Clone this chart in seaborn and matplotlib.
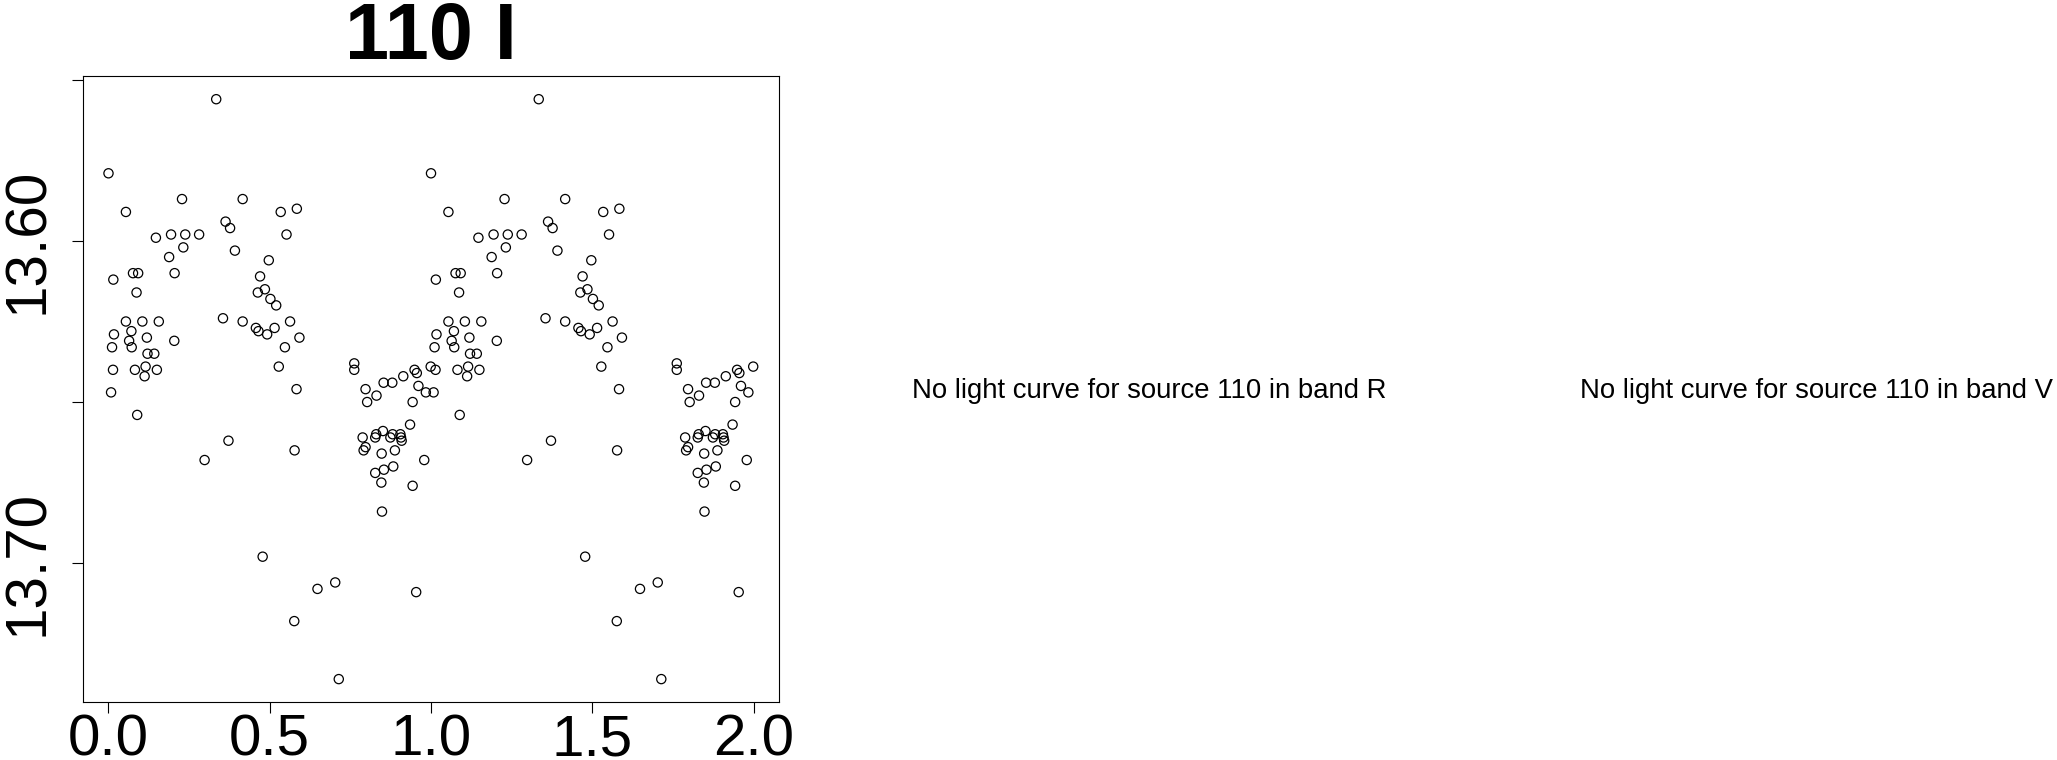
import numpy as np
import pandas as pd
import seaborn as sns
import matplotlib.pyplot as plt

# ===============================
# DATA (phase-folded I band light curve, source 110)
# ===============================
phase = [
    0.000, 0.054, 0.228, 0.416, 0.334, 0.363, 0.377, 0.534, 0.584, 0.552,
    0.147, 0.194, 0.238, 0.281, 0.232, 0.188, 0.205, 0.392, 0.497, 0.015,
    0.076, 0.092, 0.087, 0.470, 0.463, 0.485, 0.502, 0.520, 0.355, 0.416,
    0.054, 0.105, 0.156, 0.017, 0.071, 0.064, 0.072, 0.119, 0.011, 0.204,
    0.121, 0.142, 0.014, 0.082, 0.115, 0.112, 0.150, 0.008, 0.457, 0.465,
    0.492, 0.515, 0.563, 0.592, 0.547, 0.528, 0.583, 0.762, 0.762, 0.797,
    0.853, 0.880, 0.914, 0.949, 0.956, 0.961, 0.984, 0.999,
    0.089, 0.298, 0.372, 0.577, 0.478, 0.648, 0.703, 0.576, 0.714, 0.954,
    0.831, 0.802, 0.943, 0.935, 0.788, 0.827, 0.830, 0.851, 0.874, 0.881,
    0.905, 0.907, 0.909, 0.797, 0.791, 0.847, 0.888, 0.979, 0.827, 0.854,
    0.883, 0.846, 0.943, 0.848,
]
mag = [
    13.579, 13.591, 13.587, 13.587, 13.556, 13.594, 13.596, 13.591, 13.590, 13.598,
    13.599, 13.598, 13.598, 13.598, 13.602, 13.605, 13.610, 13.603, 13.606, 13.612,
    13.610, 13.610, 13.616, 13.611, 13.616, 13.615, 13.618, 13.620, 13.624, 13.625,
    13.625, 13.625, 13.625, 13.629, 13.628, 13.631, 13.633, 13.630, 13.633, 13.631,
    13.635, 13.635, 13.640, 13.640, 13.639, 13.642, 13.640, 13.647, 13.627, 13.628,
    13.629, 13.627, 13.625, 13.630, 13.633, 13.639, 13.646, 13.638, 13.640, 13.646,
    13.644, 13.644, 13.642, 13.640, 13.641, 13.645, 13.647, 13.639,
    13.654, 13.668, 13.662, 13.665, 13.698, 13.708, 13.706, 13.718, 13.736, 13.709,
    13.648, 13.650, 13.650, 13.657, 13.661, 13.661, 13.660, 13.659, 13.661, 13.660,
    13.660, 13.661, 13.662, 13.664, 13.665, 13.666, 13.665, 13.668, 13.672, 13.671,
    13.670, 13.675, 13.676, 13.684,
]
source_id = "110"
band_plotted = "I"
missing_bands = ["R", "V"]
xticks = [0.0, 0.5, 1.0, 1.5, 2.0]
yticks = [13.55, 13.60, 13.65, 13.70]
ytick_labels = ["", "13.60", "", "13.70"]

# two cycles: phase and phase + 1
df = pd.DataFrame({
    "phase": np.concatenate([phase, np.array(phase) + 1.0]),
    "mag": np.concatenate([mag, mag]),
})

# ===============================
# PLOT
# ===============================
sns.set_style("ticks")
plt.rcParams["font.family"] = ["Liberation Sans", "DejaVu Sans"]
plt.rcParams["text.color"] = "black"
plt.rcParams["xtick.labelcolor"] = "black"
plt.rcParams["ytick.labelcolor"] = "black"

W, H = 2057, 760
fig = plt.figure(figsize=(W / 100, H / 100), dpi=100)
ax = fig.add_axes([82.7 / W, 1 - 702.3 / H, (779 - 82.7) / W, (702.3 - 76) / H])

sns.scatterplot(data=df, x="phase", y="mag", ax=ax, marker="o", s=44,
                facecolors="none", edgecolor="black", linewidth=0.9)

# R style 4% padding
xr = df["phase"].max() - df["phase"].min()
yr = df["mag"].max() - df["mag"].min()
ax.set_xlim(df["phase"].min() - 0.04 * xr, df["phase"].max() + 0.04 * xr)
ax.set_ylim(df["mag"].max() + 0.04 * yr, df["mag"].min() - 0.04 * yr)

ax.set_xticks(xticks)
ax.set_xticklabels([f"{t:.1f}" for t in xticks])
ax.set_yticks(yticks)
ax.set_yticklabels(ytick_labels, rotation=90, va="center")
ax.tick_params(axis="both", length=8, width=0.8, color="black", labelsize=42)
ax.tick_params(axis="x", pad=0)
ax.tick_params(axis="y", pad=12)
ax.set_xlabel("")
ax.set_ylabel("")
for sp in ax.spines.values():
    sp.set_color("black")
    sp.set_linewidth(0.8)

ax.set_title(f"{source_id} {band_plotted}", fontsize=57, fontweight="bold",
             pad=10, color="black")

# empty panels for bands without data
for xc, b in zip([1149, 1817], missing_bands):
    fig.text(xc / W, 1 - 391 / H, f"No light curve for source {source_id} in band {b}",
             ha="center", va="center", fontsize=19.8, color="black")

fig.savefig("out.png", dpi=100)
